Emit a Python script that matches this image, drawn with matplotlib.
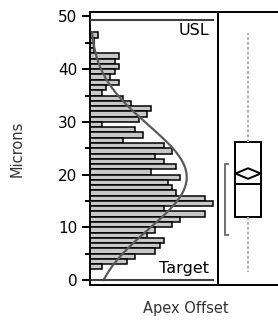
import numpy as np
import matplotlib
matplotlib.use("Agg")
import matplotlib.pyplot as plt

# =========================
# Data
# =========================

bin_lo = list(range(46, 1, -1))          # bins [k, k+1], top to bottom
counts = [2, 1, 1, 1, 7, 6, 7, 6, 5, 7, 4, 3, 8, 10, 15, 14, 12, 3, 11, 13,
          8, 18, 20, 16, 18, 21, 15, 22, 19, 20, 21, 28, 30, 18, 28, 22, 20,
          16, 14, 18, 17, 16, 11, 9, 3]

fit_mean = 19.5
fit_sd = 9.85

usl = 49.3
target = 0.0

q1, median, q3 = 11.9, 18.3, 26.2
whisk_lo, whisk_hi = 1.6, 46.8
mean_val, mean_ci = 20.2, (19.2, 21.2)
short_half = (8.5, 22.1)

y_ticks = [0, 10, 20, 30, 40, 50]

# =========================
# Figure
# =========================

W, H = 278, 322
fig = plt.figure(figsize=(W / 100, H / 100), dpi=100)
plt.rcParams["font.family"] = ["DejaVu Sans"]

ax = fig.add_axes([90 / W, 37 / H, 128 / W, 273 / H])
axb = fig.add_axes([218 / W, 37 / H, 62 / W, 273 / H], sharey=ax)

centers = np.array(bin_lo) + 0.5
ax.barh(centers, counts, height=1.0, left=0, color="#c8c8c8",
        edgecolor="black", linewidth=1.1, zorder=2)

# fitted normal curve
n_tot = sum(counts)
yy = np.linspace(0, 47, 300)
pdf = n_tot / (fit_sd * np.sqrt(2 * np.pi)) * np.exp(-0.5 * ((yy - fit_mean) / fit_sd) ** 2)
ax.plot(pdf, yy, color="#5a5a5a", lw=1.6, zorder=3)

# spec lines
ax.axhline(usl, xmin=0, xmax=0.96, color="#404040", lw=1.5, zorder=3)
ax.axhline(target, xmin=0, xmax=0.96, color="#404040", lw=1.5, zorder=3)
ax.text(0.93, usl - 0.6, "USL", transform=ax.get_yaxis_transform(),
        ha="right", va="top", fontsize=11.5, color="black")
ax.text(0.93, target + 0.7, "Target", transform=ax.get_yaxis_transform(),
        ha="right", va="bottom", fontsize=11.5, color="black")

ax.set_xlim(0, 31.3)
ax.set_ylim(-0.95, 50.85)
ax.set_yticks(y_ticks)
ax.set_yticks([5, 15, 25, 35, 45], minor=True)
ax.tick_params(axis="y", which="major", length=6, width=1.4, labelsize=11, pad=3)
ax.tick_params(axis="y", which="minor", length=3.5, width=1.4)
ax.set_xticks([])
for s in ax.spines.values():
    s.set_linewidth(1.4)
ax.set_ylabel("Microns", fontsize=10.5, color="#333333", labelpad=24)

# =========================
# Box plot panel
# =========================

stats = [dict(med=median, q1=q1, q3=q3, whislo=whisk_lo, whishi=whisk_hi)]
axb.bxp(stats, positions=[0.5], widths=0.42, showfliers=False, showcaps=False,
        patch_artist=True,
        boxprops=dict(facecolor="white", edgecolor="black", linewidth=1.4),
        medianprops=dict(color="black", linewidth=1.4),
        whiskerprops=dict(color="#b0b0b0", linewidth=1.4, linestyle=(0, (1.5, 1))))

# mean diamond
dx = 0.21
axb.plot([0.5 - dx, 0.5, 0.5 + dx, 0.5, 0.5 - dx],
         [mean_val, mean_ci[1], mean_val, mean_ci[0], mean_val],
         color="black", lw=1.4, zorder=4)

# shortest half bracket
bx = 0.12
axb.plot([bx + 0.05, bx, bx, bx + 0.05],
         [short_half[1], short_half[1], short_half[0], short_half[0]],
         color="#707070", lw=1.4)

axb.set_xlim(0, 1.03)
axb.set_xticks([])
axb.tick_params(axis="y", which="both", left=False, right=False, labelleft=False)
axb.spines["right"].set_visible(False)
for s in axb.spines.values():
    s.set_linewidth(1.4)

fig.text(186 / W, 1 - 308 / H, "Apex Offset", ha="center", va="center",
         fontsize=10.5, color="#333333")

fig.savefig("out.png", dpi=100)
